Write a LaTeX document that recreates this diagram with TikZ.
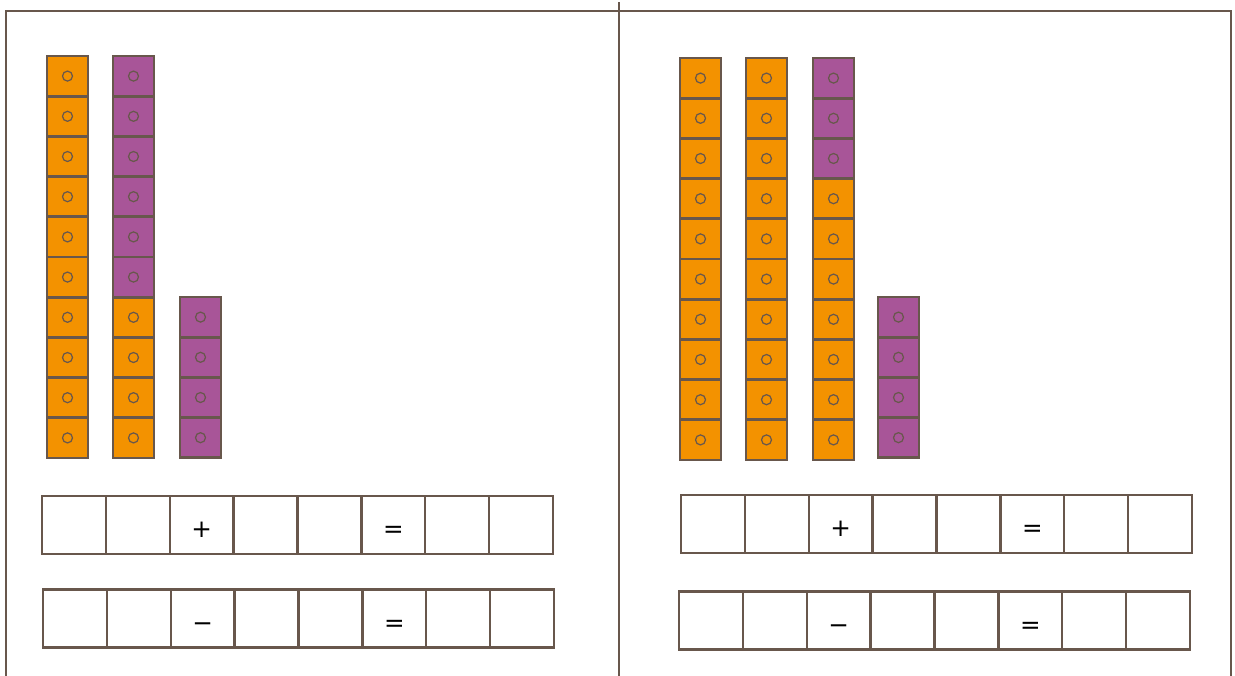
\documentclass[tikz,border=0pt]{standalone}
\usepackage{fontspec}
\setsansfont{DejaVu Sans}
\usetikzlibrary{positioning}
\definecolor{cubeorange}{RGB}{243,146,0}
\definecolor{cubepurple}{RGB}{168,85,152}
\definecolor{linebrown}{RGB}{104,87,76}

\begin{document}
\begin{tikzpicture}[
  x=0.02cm,y=-0.02cm,
  cube/.style={draw=linebrown,line width=1.6pt,inner sep=0pt,outer sep=0pt,
               minimum width=0.82cm,minimum height=0.804cm,
               path picture={\draw[linebrown,line width=0.7pt]
                 (path picture bounding box.center) circle (0.1cm);}},
  cell/.style={draw=linebrown,line width=1.3pt,inner sep=0pt,outer sep=0pt,
               minimum width=1.2775cm,minimum height=1.16cm,
               text height=0.5cm,text depth=0pt,
               font=\sffamily\fontsize{14}{14}\selectfont}
]
\useasboundingbox (0,0) rectangle (1235,676);

% frame and divider
\draw[linebrown,line width=1.3pt] (6,676) -- (6,11) -- (1231,11) -- (1231,676);
\draw[linebrown,line width=1.3pt] (619,2) -- (619,676);

% cube columns: x / top / purple on top / cubes / name
\foreach \cx/\cy/\np/\n/\nm in {67.5/56/0/10/la, 133.5/56/6/10/lb, 200.5/297/4/4/lc,
                                700.5/58/0/10/ra, 766.5/58/0/10/rb, 833.5/58/3/10/rc,
                                898.5/297/4/4/rd}
  \foreach \k in {1,...,\n} {
    \ifnum\k>\np\def\shade{cubeorange}\else\def\shade{cubepurple}\fi
    \node[cube,fill=\shade] (\nm\k) at (\cx,{\cy+20.1+40.2*(\k-1)}) {};
  }

% number sentence rows
\foreach \rx/\ry/\op/\nm in {42/525/+/lp, 43/618.5/−/lm, 681/524/+/rp, 679/620.5/−/rm}
  \foreach \t [count=\i] in {{},{},\op,{},{},=,{},{}}
    \node[cell] (\nm\i) at ({\rx+63.875*(\i-0.5)},\ry) {\t};
\end{tikzpicture}
\end{document}
